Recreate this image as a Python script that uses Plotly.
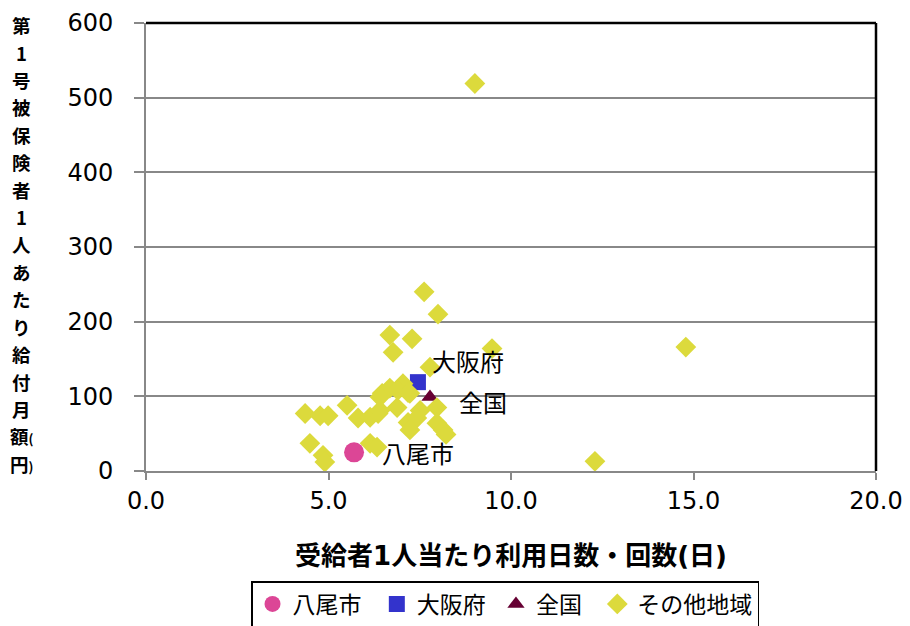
import plotly.graph_objects as go

# data
yao_x = [5.70]
yao_y = [25]
osaka_x = [7.45]
osaka_y = [119]
zenkoku_x = [7.78]
zenkoku_y = [99]
other_x = [9.01, 14.79, 12.30, 7.62, 8.00, 6.68, 7.29, 6.77, 9.48, 7.78,
           4.36, 4.77, 4.99, 5.51, 5.81, 6.14, 6.36, 6.47, 4.49, 4.85,
           4.90, 6.14, 6.33, 7.04, 6.68, 6.41, 7.23, 6.41, 6.88, 7.51,
           7.97, 7.18, 7.42, 7.97, 8.14, 7.23, 8.22, 6.90, 7.18]
other_y = [519, 166, 13, 240, 210, 182, 177, 159, 164, 139,
           77, 74, 74, 88, 71, 72, 77, 104, 37, 21,
           12, 37, 32, 117, 111, 99, 104, 81, 85, 81,
           85, 65, 71, 64, 55, 55, 49, 108, 105]

names = ['八尾市', '大阪府', '全国', 'その他地域']
colors = ['#DC4696', '#3333CC', '#660033', '#DCDA3C']
x_title = '受給者1人当たり利用日数・回数(日)'
y_title = '第1号被保険者1人あたり給付月額(円)'

jp = 'Noto Sans CJK JP'
num = 'DejaVu Sans, Noto Sans CJK JP'
nb = '\u00a0'  # padding between legend entries

fig = go.Figure()
fig.add_trace(go.Scatter(x=yao_x, y=yao_y, mode='markers', name=names[0] + nb * 2,
                         marker=dict(symbol='circle', size=20, color=colors[0])))
fig.add_trace(go.Scatter(x=osaka_x, y=osaka_y, mode='markers', name=names[1] + nb,
                         marker=dict(symbol='square', size=16, color=colors[1])))
fig.add_trace(go.Scatter(x=zenkoku_x, y=zenkoku_y, mode='markers', name=names[2] + nb * 2,
                         marker=dict(symbol='triangle-up', size=15, color=colors[2])))
fig.add_trace(go.Scatter(x=other_x, y=other_y, mode='markers', name=names[3],
                         marker=dict(symbol='diamond', size=16, color=colors[3])))

# data labels
labels = [(yao_x[0], yao_y[0], names[0], 26, 0),
          (osaka_x[0], osaka_y[0], names[1], 12, 22),
          (zenkoku_x[0], zenkoku_y[0], names[2], 27, -4)]
for lx, ly, lt, xs, ys in labels:
    fig.add_annotation(x=lx, y=ly, text=lt, showarrow=False, xanchor='left',
                       xshift=xs, yshift=ys, font=dict(family=jp, size=24, color='black'))

# vertical y title: one upright character per row, stacked top to bottom
sp = '<span style="font-size:13px">{}</span>'
ylines = list('第1号被保険者1人あたり給付月') + ['額' + sp.format('('), '円' + sp.format(')')]
plot_h = 448
for i, ch in enumerate(ylines):
    row_px = 2.3 + i * 27.4  # pixels below the top of the plot area
    fig.add_annotation(x=-0.1699, y=1 - row_px / plot_h, xref='paper', yref='paper',
                       showarrow=False, text=ch, xanchor='center', yanchor='middle',
                       font=dict(family=jp, size=18.5, color='black', weight='bold'))

# black frame on top and right
fig.add_shape(type='line', xref='paper', yref='paper', x0=0, x1=1, y0=1, y1=1,
              line=dict(color='black', width=2.5))
fig.add_shape(type='line', xref='paper', yref='paper', x0=1, x1=1, y0=0, y1=1,
              line=dict(color='black', width=2.5))

fig.update_xaxes(range=[0, 20], tickvals=[0, 5, 10, 15, 20], tickformat='.1f',
                 showgrid=False, zeroline=False, showline=True, linecolor='#888888', linewidth=2,
                 ticks='outside', ticklen=7, tickwidth=2, tickcolor='#888888',
                 automargin=False,
                 tickfont=dict(family=num, size=24, color='black'),
                 title=dict(text=x_title, standoff=33,
                            font=dict(family=num, size=26, color='black', weight='bold')))
fig.update_yaxes(range=[0, 600], dtick=100, showgrid=True, gridcolor='#888888', gridwidth=2,
                 zeroline=False, showline=True, linecolor='#888888', linewidth=2,
                 ticks='outside', ticklen=10, tickwidth=2, tickcolor='#888888',
                 ticklabelstandoff=16, automargin=False,
                 tickfont=dict(family=num, size=24, color='black'))

# page body has an 8px margin, so the figure is a bit smaller than the window
fig.update_layout(
    width=902, height=618,
    margin=dict(l=138, r=34, t=15, b=155),
    paper_bgcolor='white', plot_bgcolor='white',
    showlegend=True,
    legend=dict(orientation='h', x=0.4918, y=0.0728, xanchor='center', yanchor='top',
                yref='container',
                bordercolor='black', borderwidth=1.5, bgcolor='white',
                font=dict(family=jp, size=23, color='black')),
)

fig.write_html("out.html")
